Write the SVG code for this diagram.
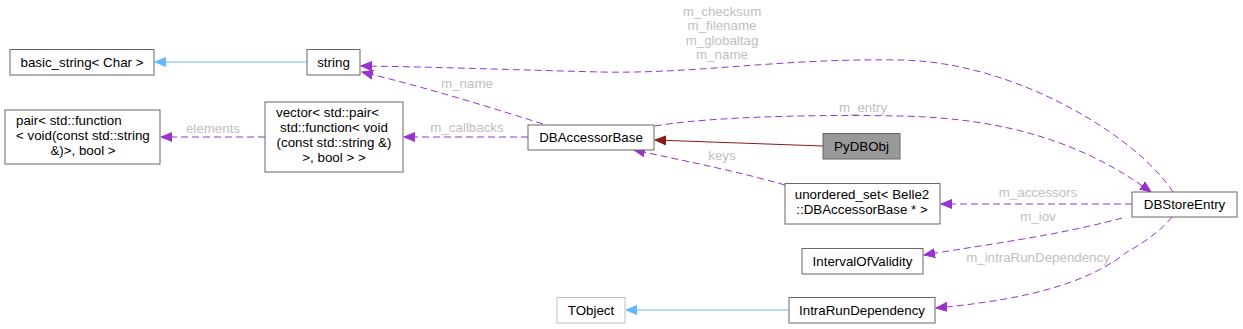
<svg xmlns="http://www.w3.org/2000/svg" width="1243" height="329" viewBox="0 0 1243 329">
<style>
.n rect{fill:#fff;stroke:#666;stroke-width:1}
.t{font-family:"Liberation Sans",Arial,sans-serif;font-size:13.33px;fill:#000}
.m{text-anchor:middle}
.l{font-family:"Liberation Sans",Arial,sans-serif;font-size:13.33px;fill:#c0c0c0;text-anchor:middle}
.d{fill:none;stroke:#9a32cd;stroke-width:1;stroke-dasharray:7,4}
.b{fill:none;stroke:#63b8ff;stroke-width:1}
.r{fill:none;stroke:#8b1a1a;stroke-width:1}
</style>
<defs>
<marker id="ap" markerUnits="userSpaceOnUse" markerWidth="12" markerHeight="10" refX="11" refY="5" orient="auto"><path d="M0,0.5 L11,5 L0,9.5 Z" fill="#9a32cd" stroke="#9a32cd"/></marker>
<marker id="ab" markerUnits="userSpaceOnUse" markerWidth="12" markerHeight="10" refX="11" refY="5" orient="auto"><path d="M0,0.5 L11,5 L0,9.5 Z" fill="#63b8ff" stroke="#63b8ff"/></marker>
<marker id="ar" markerUnits="userSpaceOnUse" markerWidth="12" markerHeight="10" refX="11" refY="5" orient="auto"><path d="M0,0.5 L11,5 L0,9.5 Z" fill="#8b1a1a" stroke="#8b1a1a"/></marker>
</defs>
<rect width="1243" height="329" fill="#fff"/>
<g id="connectors">
<path class="b" d="M307,62 L155,62" marker-end="url(#ab)"/>
<path class="d" d="M1173,192 C1140,140 1020,62 900,60 C780,58 700,74 600,72 C520,70 440,67 361,66" marker-end="url(#ap)"/>
<text class="l" x="722" y="16">m_checksum</text>
<text class="l" x="722" y="30">m_filename</text>
<text class="l" x="722" y="45">m_globaltag</text>
<text class="l" x="722" y="59">m_name</text>
<path class="d" d="M543,124 C480,104 420,86 362,72" marker-end="url(#ap)"/>
<text class="l" x="467" y="88">m_name</text>
<path class="d" d="M528,137 L404,137" marker-end="url(#ap)"/>
<text class="l" x="467" y="132">m_callbacks</text>
<path class="d" d="M265,137 L161,137" marker-end="url(#ap)"/>
<text class="l" x="213" y="133">elements</text>
<path class="r" d="M823,146 L655,140" marker-end="url(#ar)"/>
<path class="d" d="M655,126 C700,118 800,114 900,116 C1000,118 1080,140 1151,192" marker-end="url(#ap)"/>
<text class="l" x="863" y="112">m_entry</text>
<path class="d" d="M785,185 C740,172 690,162 634,150" marker-end="url(#ap)"/>
<text class="l" x="722" y="160">keys</text>
<path class="d" d="M1132,204 L941,204" marker-end="url(#ap)"/>
<text class="l" x="1038" y="197">m_accessors</text>
<path class="d" d="M1122,218 C1060,235 990,244 924,255" marker-end="url(#ap)"/>
<text class="l" x="1038" y="221">m_iov</text>
<path class="d" d="M1172,217 C1160,232 1140,245 1127,252 C1080,290 1000,302 936,308" marker-end="url(#ap)"/>
<text class="l" x="1038" y="262">m_intraRunDependency</text>
<path class="b" d="M789,310 L626,310" marker-end="url(#ab)"/>
</g>
<g id="basic_string" class="n"><rect x="10" y="49.5" width="144" height="25.5"/><text class="t m" x="82" y="66.5">basic_string&lt; Char &gt;</text></g>
<g id="string" class="n"><rect x="307" y="49.5" width="53" height="25.5"/><text class="t m" x="333.5" y="66.5">string</text></g>
<g id="pair" class="n"><rect x="5" y="110" width="155" height="54"/><text class="t" x="16" y="125">pair&lt; std::function</text><text class="t" x="16" y="140">&lt; void(const std::string</text><text class="t m" x="83" y="154.5">&amp;)&gt;, bool &gt;</text></g>
<g id="vector" class="n"><rect x="265" y="102" width="138" height="70"/><text class="t" x="276" y="117">vector&lt; std::pair&lt;</text><text class="t m" x="334" y="132">std::function&lt; void</text><text class="t m" x="334" y="147">(const std::string &amp;)</text><text class="t m" x="334" y="161.5">&gt;, bool &gt; &gt;</text></g>
<g id="DBAccessorBase" class="n"><rect x="528" y="125" width="126" height="25"/><text class="t m" x="591" y="142">DBAccessorBase</text></g>
<g id="PyDBObj" class="n"><rect x="823" y="133.5" width="77" height="25.5" style="fill:#999;stroke:#666"/><text class="t m" x="861.5" y="151">PyDBObj</text></g>
<g id="unordered_set" class="n"><rect x="785" y="183.5" width="155" height="40.5"/><text class="t m" x="862" y="199">unordered_set&lt; Belle2</text><text class="t m" x="862" y="214">::DBAccessorBase * &gt;</text></g>
<g id="DBStoreEntry" class="n"><rect x="1132" y="192" width="105" height="25"/><text class="t m" x="1184.5" y="209">DBStoreEntry</text></g>
<g id="IntervalOfValidity" class="n"><rect x="802" y="248.5" width="121" height="25.5"/><text class="t m" x="862.5" y="266">IntervalOfValidity</text></g>
<g id="IntraRunDependency" class="n"><rect x="789" y="297.5" width="146" height="25.5"/><text class="t m" x="862" y="315">IntraRunDependency</text></g>
<g id="TObject" class="n"><rect x="557" y="297.5" width="68" height="25.5" style="stroke:#bfbfbf"/><text class="t m" x="591" y="315">TObject</text></g>
</svg>
